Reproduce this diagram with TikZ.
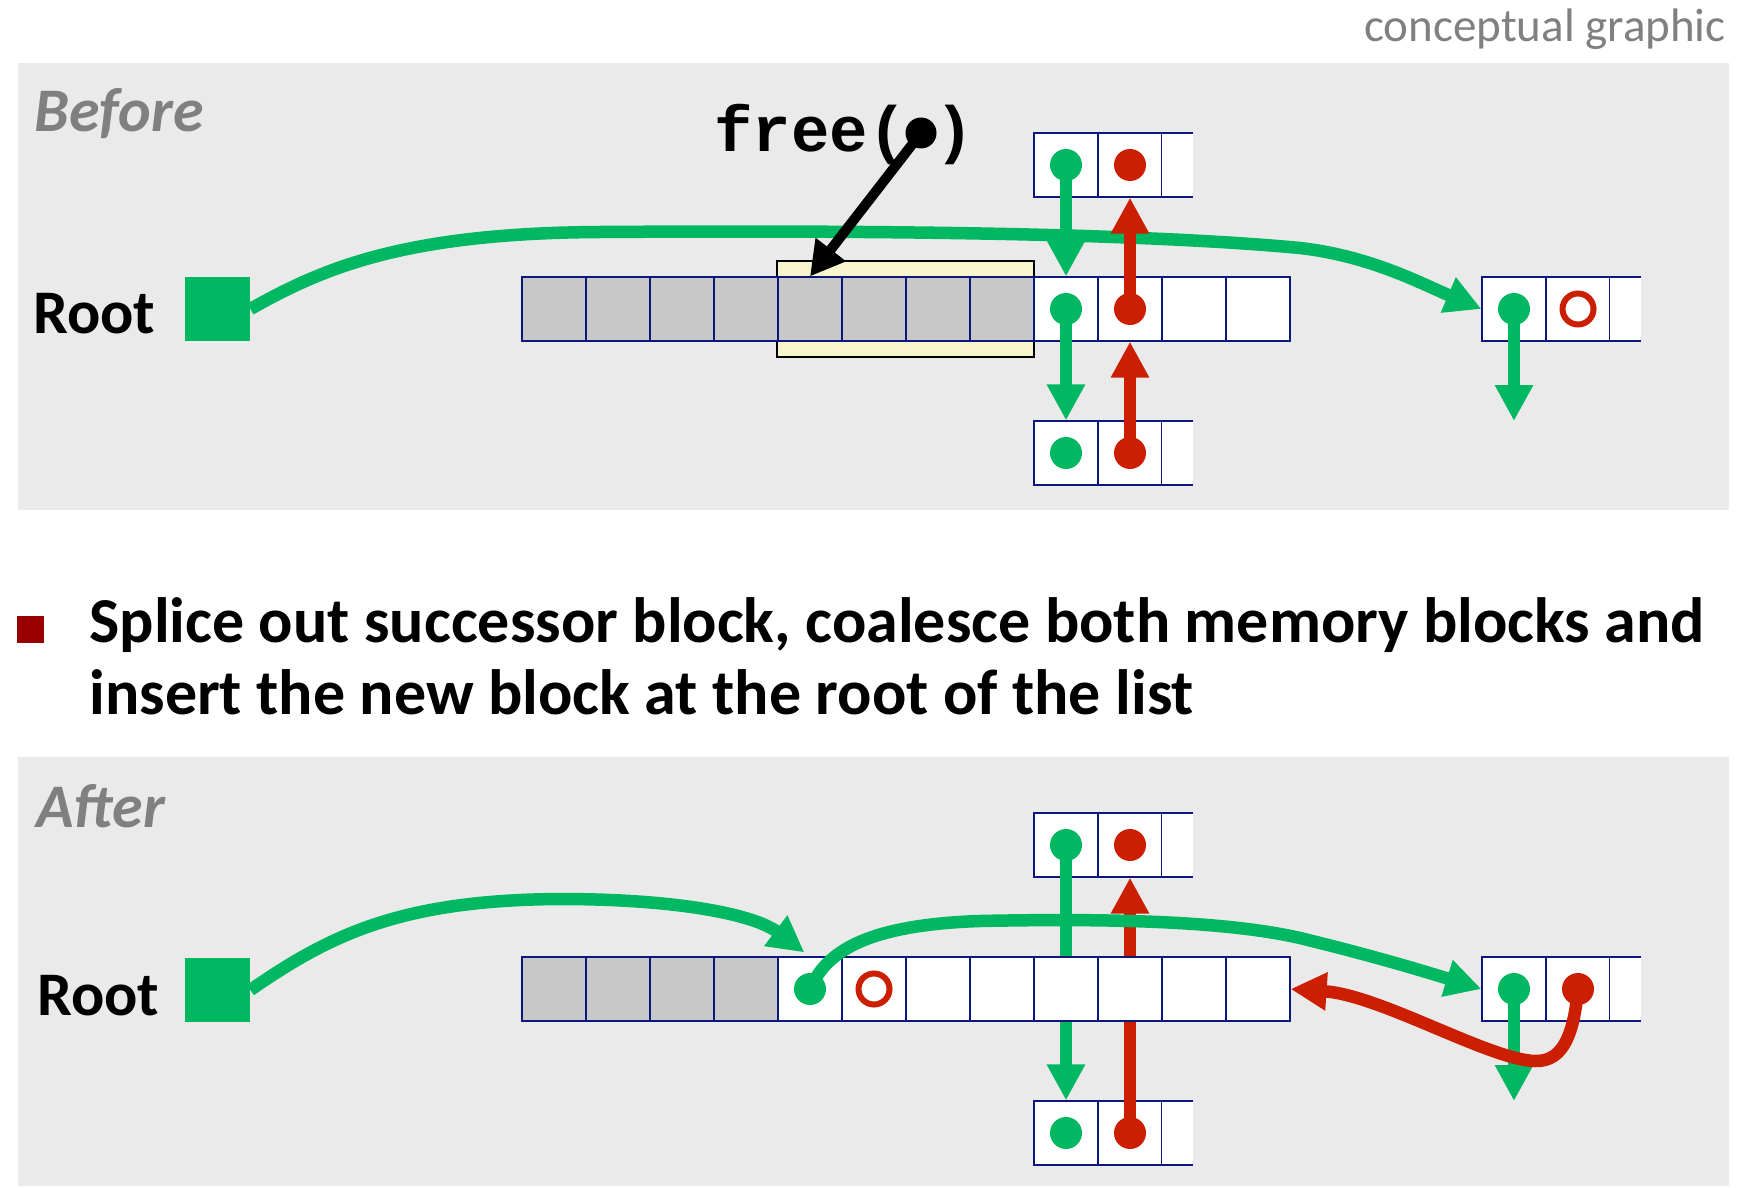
\documentclass[tikz,border=0pt]{standalone}
\usepackage{fontspec}
\setmainfont{Carlito}
\setmonofont{Liberation Mono}
\usetikzlibrary{arrows.meta,calc}
\definecolor{ggreen}{RGB}{0,184,98}
\definecolor{rred}{RGB}{204,30,0}
\definecolor{panelc}{RGB}{234,234,234}
\definecolor{cellgray}{RGB}{200,200,200}
\definecolor{yelc}{RGB}{248,245,204}
\definecolor{navyc}{RGB}{12,22,125}
\definecolor{txtgray}{RGB}{128,128,128}
\definecolor{bulred}{RGB}{153,0,0}
\begin{document}
\begin{tikzpicture}[x=0.5pt,y=-0.5pt,
  cell/.style={draw=navyc, line width=0.6pt, minimum width=32pt, minimum height=32pt, inner sep=0pt, fill=white},
  graycell/.style={cell, fill=cellgray},
  edgeline/.style={draw=navyc, line width=0.6pt},
  rootsq/.style={fill=ggreen, minimum width=32.5pt, minimum height=32pt, inner sep=0pt},
  gdot/.style={circle, fill=ggreen, minimum size=16pt, inner sep=0pt},
  rdot/.style={circle, fill=rred, minimum size=16pt, inner sep=0pt},
  bdot/.style={circle, fill=black, minimum size=15.5pt, inner sep=0pt},
  rring/.style={circle, draw=rred, line width=3pt, minimum size=15.5pt, inner sep=0pt},
  garrow/.style={draw=ggreen, line width=6.25pt, -{Triangle[length=18pt,width=18pt]}},
  rarrow/.style={draw=rred, line width=6.25pt, -{Triangle[length=18pt,width=18pt]}},
  barrow/.style={draw=black, line width=5pt, -{Triangle[length=17pt,width=18pt]}},
  lbl/.style={anchor=base west, inner sep=0pt, font=\bfseries\fontsize{31}{37}\selectfont},
  panel/.style={fill=panelc},
  ybox/.style={fill=yelc, draw=black, line width=1pt},
  bullet/.style={fill=bulred, minimum size=13.5pt, inner sep=0pt}
]
\useasboundingbox (0,0) rectangle (1745,1188);
\fill[white] (0,0) rectangle (1745,1188);

% panels
\fill[panel] (18,63) rectangle (1729,510);
\fill[panel] (18,757) rectangle (1729,1186);

\node[anchor=base east, inner sep=0pt, text=txtgray, font=\fontsize{23.5}{28}\selectfont] (cg) at (1726,42) {conceptual graphic};

% ================= BEFORE =================
\node[lbl, text=txtgray, font=\bfseries\itshape\fontsize{31}{37}\selectfont] (before) at (34,132) {Before};
\node[lbl] (rootBl) at (33,333) {Root};
\node[rootsq] (rootB) at (217.5,309) {};

\draw[ybox] (777,261) rectangle (1034,357);
\foreach \i in {0,...,7} \node[graycell] (B\i) at ({554+64*\i},309) {};
\foreach \i in {8,...,11} \node[cell] (B\i) at ({554+64*\i},309) {};

% top block
\node[cell] (T0) at (1066,165) {};
\node[cell] (T1) at (1130,165) {};
\fill[white] (1162,133) rectangle (1193,197);
\draw[edgeline] (1162,133) -- (1193,133) (1162,197) -- (1193,197);
% bottom block
\node[cell] (L0) at (1066,453) {};
\node[cell] (L1) at (1130,453) {};
\fill[white] (1162,421) rectangle (1193,485);
\draw[edgeline] (1162,421) -- (1193,421) (1162,485) -- (1193,485);
% right block
\node[cell] (R0) at (1514,309) {};
\node[cell] (R1) at (1578,309) {};
\fill[white] (1610,277) rectangle (1641,341);
\draw[edgeline] (1610,277) -- (1641,277) (1610,341) -- (1641,341);

% green curve root -> right block
\draw[garrow] (rootB.east) .. controls (320,270) and (400,233) .. (600,232)
   .. controls (900,230) and (1150,234) .. (1300,248)
   .. controls (1370,256) and (1420,283) .. (R0.west);

\coordinate (Rtip) at (1514,421);
\draw[garrow] (T0.center) -- (B8.north);
\draw[garrow] (B8.center) -- (L0.north);
\draw[garrow] (R0.center) -- (Rtip);
\draw[rarrow] (B9.center) -- (T1.south);
\draw[rarrow] (L1.center) -- (B9.south);

% free()
\node[anchor=base west, inner sep=0pt, font=\ttfamily\bfseries\fontsize{32}{36}\selectfont] (freetxt) at (714,152) {free(};
\node[anchor=base, inner sep=0pt, font=\ttfamily\bfseries\fontsize{32}{36}\selectfont] (freecl) at (955,152) {)};
\node[bdot] (fdot) at (921,133) {};
\draw[barrow] (fdot.center) -- (B4.north);

% dots
\node[gdot] (T0d) at (T0) {};
\node[rdot] (T1d) at (T1) {};
\node[gdot] (B8d) at (B8) {};
\node[rdot] (B9d) at (B9) {};
\node[gdot] (L0d) at (L0) {};
\node[rdot] (L1d) at (L1) {};
\node[gdot] (R0d) at (R0) {};
\node[rring] (R1d) at (R1) {};

% ================= BULLET =================
\node[bullet] (bul) at (30.5,629.5) {};
\node[anchor=base west, inner sep=0pt, font=\bfseries\fontsize{32}{36}\selectfont] (l1) at (89,642) {Splice out successor block, coalesce both memory blocks and};
\node[anchor=base west, inner sep=0pt, font=\bfseries\fontsize{32}{36}\selectfont] (l2) at (89,714) {insert the new block at the root of the list};

% ================= AFTER =================
\node[lbl, text=txtgray, font=\bfseries\itshape\fontsize{31}{37}\selectfont] (after) at (36,827) {After};
\node[lbl] (rootAl) at (37,1015) {Root};
\node[rootsq] (rootA) at (217.5,990) {};

% top / bottom blocks
\node[cell] (AT0) at (1066,845) {};
\node[cell] (AT1) at (1130,845) {};
\fill[white] (1162,813) rectangle (1193,877);
\draw[edgeline] (1162,813) -- (1193,813) (1162,877) -- (1193,877);
\node[cell] (AL0) at (1066,1133) {};
\node[cell] (AL1) at (1130,1133) {};
\fill[white] (1162,1101) rectangle (1193,1165);
\draw[edgeline] (1162,1101) -- (1193,1101) (1162,1165) -- (1193,1165);

\draw[garrow] (AT0.center) -- (AL0.north);
\draw[rarrow] (AL1.center) -- (AT1.south);

% main row
\foreach \i in {0,...,3} \node[graycell] (A\i) at ({554+64*\i},989) {};
\foreach \i in {4,...,11} \node[cell] (A\i) at ({554+64*\i},989) {};

% right block
\node[cell] (AR0) at (1514,989) {};
\node[cell] (AR1) at (1578,989) {};
\fill[white] (1610,957) rectangle (1641,1021);
\draw[edgeline] (1610,957) -- (1641,957) (1610,1021) -- (1641,1021);

% curves
\coordinate (A4in) at ([shift={(27,-4)}]A4.north west);
\draw[garrow] (rootA.east) .. controls (330,935) and (400,900) .. (560,899)
   .. controls (680,899) and (755,915) .. (A4in);
\draw[garrow] (A4.center) .. controls (825,955) and (860,925) .. (980,921)
   .. controls (1120,918) and (1230,922) .. (1300,938)
   .. controls (1370,955) and (1420,970) .. (AR0.west);
\coordinate (ARtip) at (1514,1101);
\draw[garrow] (AR0.center) -- (ARtip);
\draw[rarrow] (AR1.center) .. controls (1574,1030) and (1565,1062) .. (1535,1061)
   .. controls (1490,1060) and (1380,995) .. (A11.east);

% dots
\node[gdot] (AT0d) at (AT0) {};
\node[rdot] (AT1d) at (AT1) {};
\node[gdot] (AL0d) at (AL0) {};
\node[rdot] (AL1d) at (AL1) {};
\node[gdot] (A4d) at (A4) {};
\node[rring] (A5d) at (A5) {};
\node[gdot] (AR0d) at (AR0) {};
\node[rdot] (AR1d) at (AR1) {};
\end{tikzpicture}
\end{document}
